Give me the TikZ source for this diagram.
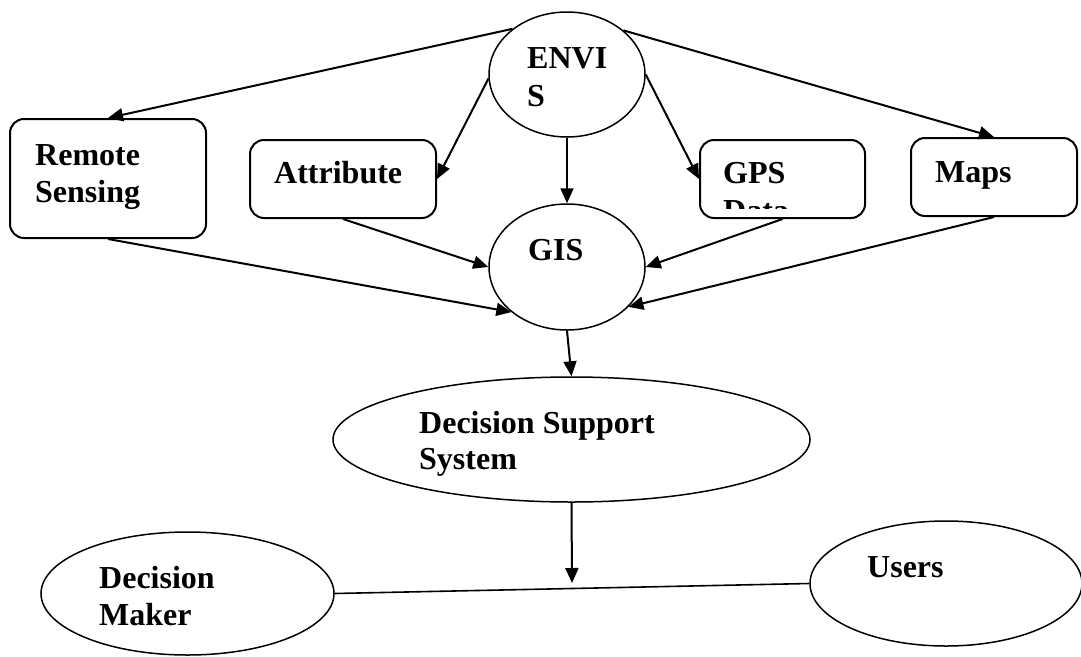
\documentclass[tikz,border=0pt]{standalone}
\usepackage{fontspec}
\setmainfont{Liberation Serif}
\usetikzlibrary{shapes.geometric,arrows.meta}
\begin{document}
\begin{tikzpicture}[x=1pt,y=-1pt,
  box/.style={draw, line width=2pt, rounded corners=14pt, inner sep=0pt},
  oval/.style={draw, ellipse, line width=1.5pt, inner sep=0pt},
  lbl/.style={font=\fontsize{32}{38}\selectfont\bfseries, inner sep=0pt, anchor=base west},
  arr/.style={line width=2pt, -{Triangle[length=15pt,width=13pt]}},
  link/.style={line width=1.6pt}]
\useasboundingbox (0,0) rectangle (1081,656);
% boxes
\node[box, minimum width=196pt, minimum height=119pt] (rs) at (108,178.5) {};
\node[box, minimum width=186pt, minimum height=78pt] (attr) at (343,179) {};
\node[box, minimum width=165pt, minimum height=78pt] (gps) at (782.5,179) {};
\node[box, minimum width=166pt, minimum height=78pt] (maps) at (994,177) {};
% ovals
\node[oval, minimum width=156pt, minimum height=125pt] (envis) at (567,74.5) {};
\node[oval, minimum width=156pt, minimum height=126pt] (gis) at (567,267) {};
\node[oval, minimum width=477pt, minimum height=125pt] (dss) at (571.5,439.5) {};
\node[oval, minimum width=293pt, minimum height=123pt] (dm) at (187.5,593.5) {};
\node[oval, minimum width=272pt, minimum height=125pt] (users) at (946,583.5) {};
% texts
\node[lbl] (t-envis1) at (527,68) {ENVI};
\node[lbl] (t-envis2) at (527,106) {S};
\node[lbl] (t-rs1) at (35,165) {Remote};
\node[lbl] (t-rs2) at (35,202) {Sensing};
\node[lbl] (t-attr) at (274,183) {Attribute};
\node[lbl] (t-gps) at (723,183) {GPS};
\begin{scope}
\clip (700,140) rectangle (865,208);
\node[lbl] (t-gpsdata) at (723,221) {Data};
\end{scope}
\node[lbl] (t-maps) at (935,182) {Maps};
\node[lbl] (t-gis) at (528,260) {GIS};
\node[lbl] (t-dss1) at (419,433) {Decision Support};
\node[lbl] (t-dss2) at (419,469) {System};
\node[lbl] (t-dm1) at (99,588) {Decision};
\node[lbl] (t-dm2) at (99,625) {Maker};
\node[lbl] (t-users) at (867,577) {Users};
% connectors
\draw[arr] (envis.140) -- (rs.north);
\draw[arr] (envis.183) -- (attr.east);
\draw[arr] (envis.south) -- (gis.north);
\draw[arr] (envis.0) -- (gps.west);
\draw[arr] (envis.38) -- (maps.north);
\draw[arr] (rs.south) -- (gis.south west);
\draw[arr] (attr.south) -- (gis.west);
\draw[arr] (gps.south) -- (gis.east);
\draw[arr] (maps.south) -- (gis.-33);
\draw[arr] (gis.south) -- (dss.north);
\coordinate (j) at (572,583);
\draw[arr] (dss.south) -- (j);
\draw[link] (dm.east) -- (users.west);
\end{tikzpicture}
\end{document}
